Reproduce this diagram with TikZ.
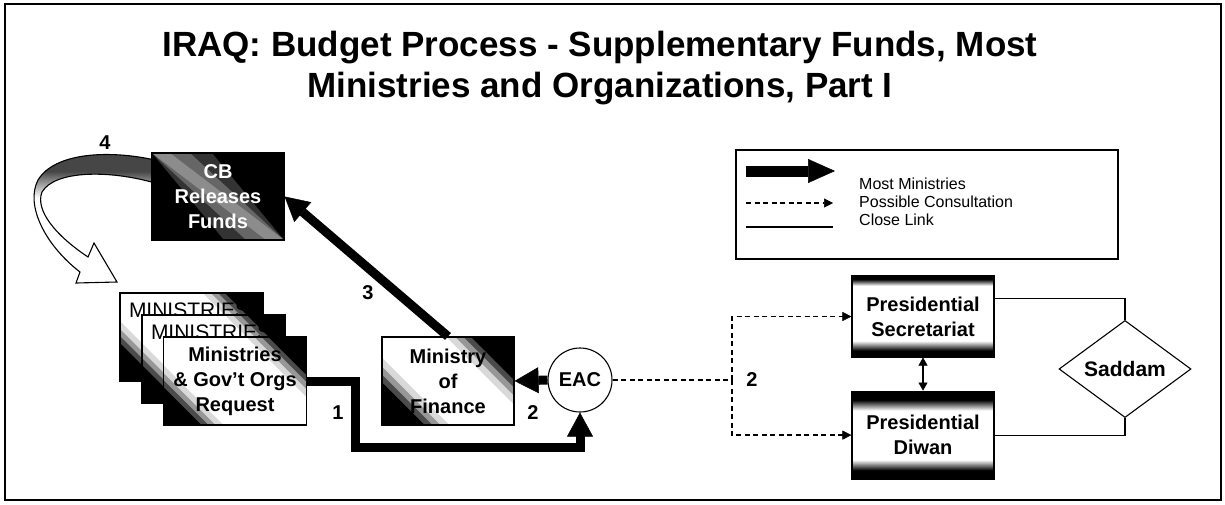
\documentclass[tikz,border=0pt]{standalone}
\usepackage{fontspec}
\setmainfont{Liberation Sans}
\usepackage{tikz}
\usetikzlibrary{shapes.geometric, arrows.meta, positioning, calc}
\definecolor{bandgray}{RGB}{70,70,70}
\pgfdeclareverticalshading{secshade}{100bp}{color(0bp)=(black); color(29bp)=(black); color(35bp)=(white); color(69bp)=(white); color(73bp)=(black); color(100bp)=(black)}
\pgfdeclareverticalshading{diwanshade}{100bp}{color(0bp)=(black); color(30bp)=(black); color(36bp)=(white); color(64bp)=(white); color(70bp)=(black); color(100bp)=(black)}
\pgfdeclareverticalshading{bandshade}{100bp}{color(0bp)=(white); color(57bp)=(white); color(67bp)=(bandgray); color(100bp)=(bandgray)}
\newcommand{\boxfont}{\fontsize{20}{25}\selectfont\bfseries}

\begin{document}
\begin{tikzpicture}[x=1pt, y=-1pt,
    box/.style={rectangle, draw, fill=white, line width=1.1pt, inner sep=0pt, align=center, font=\boxfont},
    cornerdark/.style={path picture={
        \foreach \s/\o [evaluate=\s as \l using \s*#1] in {1.5/0.15, 1.3/0.3, 1.12/0.5, 0.95/1}{
          \fill[black, opacity=\o] (path picture bounding box.south west) -- ([xshift=\l pt]path picture bounding box.south west) -- ([yshift=\l pt]path picture bounding box.south west) -- cycle;
          \fill[black, opacity=\o] (path picture bounding box.north east) -- ([xshift=-\l pt]path picture bounding box.north east) -- ([yshift=-\l pt]path picture bounding box.north east) -- cycle;
        }}},
    cbband/.style={fill=black, path picture={
        \foreach \w/\o in {60/0.2, 38/0.25, 18/0.25}{
          \fill[white, opacity=\o] (path picture bounding box.north west) -- ([xshift=\w pt]path picture bounding box.north west) -- (path picture bounding box.south east) -- ([xshift=-\w pt]path picture bounding box.south east) -- cycle;
        }}},
    shadebox/.style={box, cornerdark=40, minimum width=143pt, minimum height=88pt},
    backbox/.style={box, cornerdark=40, align=left, text width=125pt, inner xsep=9pt, inner ysep=4pt, text height=20pt, text depth=60pt, font=\fontsize{21}{25}\selectfont},
    presbox/.style={box, shade, shading=#1, minimum width=142pt},
    numlabel/.style={font=\fontsize{20}{24}\selectfont\bfseries, inner sep=1pt},
    legtext/.style={font=\fontsize{16}{16}\selectfont, anchor=west, inner sep=0pt},
    bigarrow/.style={line width=9pt, -{Triangle[length=24pt,width=26pt,line width=0.5pt]}},
    dashline/.style={line width=1.4pt, dash pattern=on 5pt off 3.5pt},
    dasharrow/.style={dashline, -{Triangle[length=9pt,width=9pt,line width=0.5pt]}},
    closelink/.style={line width=1.1pt}
]
\useasboundingbox (0,0) rectangle (1225,504);

% Frame and title
\draw[line width=1.6pt] (5,4) rectangle (1221,500);
\node[font=\fontsize{35}{41}\selectfont\bfseries, align=center, inner sep=0pt] (title) at (600,68)
    {IRAQ: Budget Process - Supplementary Funds, Most\\Ministries and Organizations, Part I};

% Central Bank
\coordinate (cbtop) at (155,160);
\coordinate (cbbot) at (155,183);
\path[draw, line width=1.1pt, shade, shading=bandshade]
    (cbtop) .. controls (110,150) and (55,152) .. (38,180)
    .. controls (25,205) and (45,245) .. (80,272)
    -- (76,283) -- (117,282) -- (94,243) -- (88,257)
    .. controls (55,235) and (35,210) .. (42,192)
    .. controls (55,170) and (110,170) .. (cbbot) -- cycle;
\node[box, cbband, minimum width=132pt, minimum height=87pt, text=white] (cb) at (218,196.5) {CB\\Releases\\Funds};
\node[numlabel] (n4) at (105,143) {4};

% Ministries requests
\node[backbox] (min1) at (191.5,337) {MINISTRIES};
\node[backbox] (min2) at (213.5,359) {MINISTRIES};
\node[shadebox] (min3) at (235,381) {Ministries\\\& Gov't Orgs\\Request};

% Finance and EAC
\node[shadebox, cornerdark=45, minimum width=132pt] (mof) at (448,381) {Ministry\\of\\Finance};
\node[box, circle, minimum size=64pt] (eac) at (580,380) {EAC};

% Presidential offices
\node[presbox=secshade, minimum height=81pt] (sec) at (923,316.5) {Presidential\\Secretariat};
\node[presbox=diwanshade, minimum height=88pt, below=33pt of sec] (diwan) {Presidential\\Diwan};
\node[box, diamond, minimum width=132pt, minimum height=84pt, font=\fontsize{21}{25}\selectfont\bfseries] (saddam) at (1125,369) {Saddam};

% Legend
\node[draw, line width=1.1pt, minimum width=382pt, minimum height=109pt] (legend) at (927,204.5) {};
\coordinate (lgA1) at (746,171);
\coordinate (lgA2) at (835,171);
\coordinate (lgB1) at (746,203);
\coordinate (lgB2) at (833,203);
\coordinate (lgC1) at (746,227);
\coordinate (lgC2) at (833,227);
\draw[line width=11pt, -{Triangle[length=27pt,width=24pt,line width=0.5pt]}] (lgA1) -- (lgA2);
\draw[dasharrow] (lgB1) -- (lgB2);
\draw[closelink] (lgC1) -- (lgC2);
\node[legtext] (lgmost) at (859,184) {Most Ministries};
\node[legtext] (lgposs) at (859,202) {Possible Consultation};
\node[legtext] (lgclose) at (859,220) {Close Link};

% Main flow
\draw[bigarrow] (min3.east) -- ++(48,0) -- ++(0,66) -| (eac.south);
\draw[bigarrow] (eac.west) -- (mof.east);
\draw[bigarrow] (mof.north) -- (cb.east);
\node[numlabel] (n1) at (338,413) {1};
\node[numlabel] (n2a) at (533,413) {2};
\node[numlabel] (n3) at (368,293) {3};

% Consultation
\coordinate (split) at (732,380);
\draw[dashline] (eac.east) -- (split);
\draw[dasharrow] (split) |- (sec.west);
\draw[dasharrow] (split) |- (diwan.west);
\node[numlabel] (n2b) at (752,380) {2};

% Close links
\draw[line width=2pt, {Triangle[length=8pt,width=9pt,line width=0.5pt]}-{Triangle[length=8pt,width=9pt,line width=0.5pt]}] (sec.south) -- (diwan.north);
\draw[closelink] ([yshift=18pt]sec.east) -| (saddam.north);
\draw[closelink] (diwan.east) -| (saddam.south);

\end{tikzpicture}
\end{document}
